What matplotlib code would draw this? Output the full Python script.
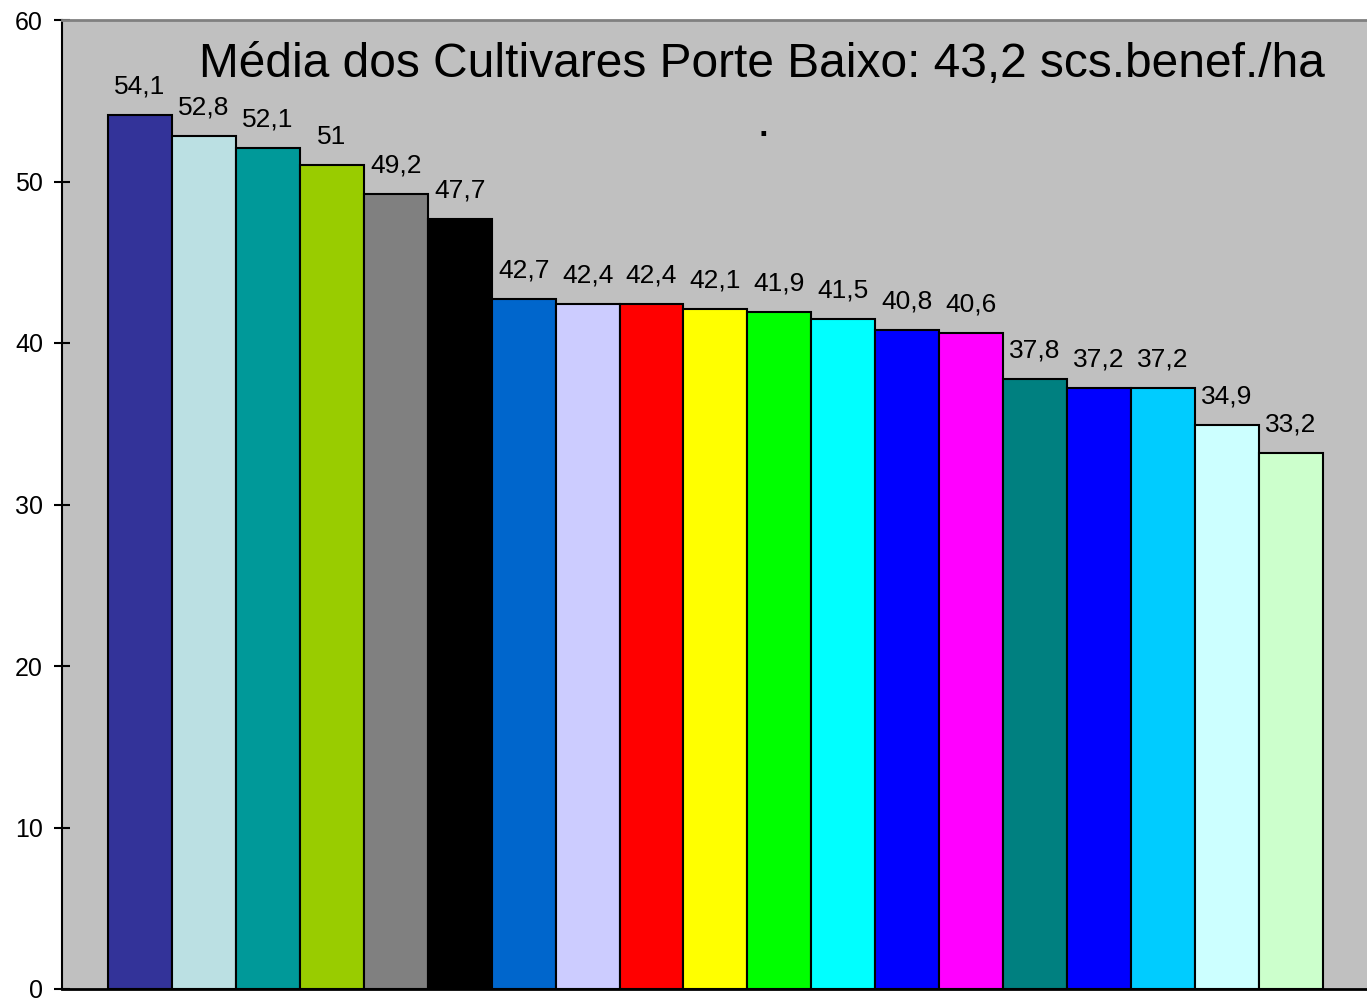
import matplotlib
matplotlib.use("Agg")
import matplotlib.pyplot as plt

plt.rcParams['font.family'] = ['Liberation Sans', 'DejaVu Sans']

# produtividade media (scs.benef./ha) por cultivar, ordem decrescente
valores = [54.1, 52.8, 52.1, 51, 49.2, 47.7, 42.7, 42.4, 42.4, 42.1,
           41.9, 41.5, 40.8, 40.6, 37.8, 37.2, 37.2, 34.9, 33.2]
cores = ["#333399", "#BBE0E3", "#009999", "#99CC00", "#808080", "#000000",
         "#0066CC", "#CCCCFF", "#FF0000", "#FFFF00", "#00FF00", "#00FFFF",
         "#0000FF", "#FF00FF", "#008080", "#0000FF", "#00CCFF", "#CCFFFF",
         "#CCFFCC"]
titulo = "Média dos Cultivares Porte Baixo: 43,2 scs.benef./ha"
yticks = [0, 10, 20, 30, 40, 50, 60]

fig = plt.figure(figsize=(13.67, 9.99), dpi=100)
ax = fig.add_axes([62/1367, 10/999, 1 - 62/1367, 969/999])
ax.set_facecolor("#C0C0C0")

xn = range(len(valores))
ax.bar(xn, valores, width=1.0, color=cores, edgecolor="black", linewidth=1.5)

for x, v in zip(xn, valores):
    txt = ("%g" % v).replace(".", ",")
    ax.annotate(txt, (x, v), xytext=(0, 15.5), textcoords="offset points",
                ha="center", va="baseline", fontsize=19)

ax.set_xlim(-1.22, 19.19)
ax.set_ylim(0, 60)
ax.set_yticks(yticks)
ax.set_xticks([])
ax.tick_params(axis="y", direction="inout", length=11.5, width=1.5,
               labelsize=18, pad=8)

ax.spines["left"].set_linewidth(1.5)
ax.spines["bottom"].set_linewidth(2)
ax.spines["top"].set_color("#808080")
ax.spines["top"].set_linewidth(2)
ax.spines["right"].set_visible(False)

# titulo dentro da area do grafico
fig.text(762/1367, 1 - 77/999, titulo, ha="center", va="baseline", fontsize=34.5)
fig.text(763/1367, 1 - 136/999, ".", ha="center", va="baseline", fontsize=35)

fig.savefig("out.png", dpi=100)
